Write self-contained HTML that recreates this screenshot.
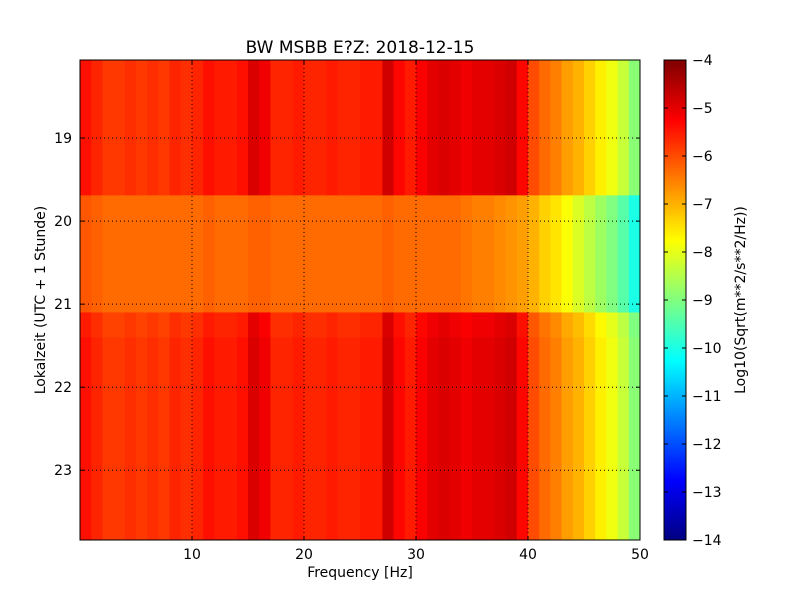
<!DOCTYPE html>
<html><head><meta charset="utf-8">
<style>
body{margin:0;background:#fff;}
svg text{font-family:"DejaVu Sans","Liberation Sans",sans-serif;}
</style></head>
<body>
<svg id="chart" width="800" height="600" xmlns="http://www.w3.org/2000/svg">
<rect width="800" height="600" fill="#fff"/>
<g id="heat"></g>
<g id="grid"></g>
<rect x="80" y="60" width="560" height="480" fill="none" stroke="#000" stroke-width="1"/>
<g id="axes"></g>
<text x="360" y="53" font-size="17" text-anchor="middle">BW MSBB E?Z: 2018-12-15</text>
<text x="360" y="577" font-size="14" text-anchor="middle">Frequency [Hz]</text>
<text transform="translate(45,300) rotate(-90)" font-size="14" text-anchor="middle">Lokalzeit (UTC + 1 Stunde)</text>
<g id="cbar"></g>
<text transform="translate(745,300) rotate(-90)" font-size="14" text-anchor="middle">Log10(Sqrt(m**2/s**2/Hz))</text>
</svg>
<script>
// data
const freqEdges = [0,1,2,3,4,5,6,7,8,9,10,11,12,13,14,15,16,17,18,19,20,21,22,23,24,25,26,27,28,29,30,31,32,33,34,35,36,37,38,39,40,41,42,43,44,45,46,47,48,49,50];
const baseSpectrum = [-5.4,-5.6,-5.8,-5.8,-5.7,-5.8,-5.7,-5.8,-5.6,-5.7,-5.6,-5.4,-5.5,-5.5,-5.4,-4.9,-5.1,-5.6,-5.6,-5.5,-5.6,-5.6,-5.5,-5.6,-5.6,-5.5,-5.5,-4.8,-5.3,-5.5,-5.2,-5.0,-4.9,-5.0,-5.1,-5.0,-5.0,-4.9,-4.8,-5.3,-6.0,-6.3,-6.5,-6.8,-7.0,-7.3,-7.6,-7.9,-8.3,-8.9];
const quietSpectrum = [-6.1,-6.2,-6.3,-6.3,-6.3,-6.3,-6.3,-6.3,-6.3,-6.3,-6.3,-6.2,-6.3,-6.3,-6.3,-6.2,-6.2,-6.3,-6.3,-6.3,-6.3,-6.3,-6.3,-6.3,-6.3,-6.3,-6.3,-6.2,-6.3,-6.3,-6.3,-6.3,-6.3,-6.3,-6.4,-6.5,-6.5,-6.6,-6.7,-6.8,-7.0,-7.3,-7.5,-7.8,-8.1,-8.4,-8.7,-9.0,-9.4,-10.0];
const segStart = [18.06,19.69,21.1,21.4];
const segEnd = [19.69,21.1,21.4,23.84];
const segSpectrum = ["base","quiet","base","base"];
const segOffset = [0,0,-0.1,0];
const xTicks = [10,20,30,40,50];
const yTicks = [19,20,21,22,23];
const cTicks = [-4,-5,-6,-7,-8,-9,-10,-11,-12,-13,-14];

const NS="http://www.w3.org/2000/svg";
const X0=80,X1=640,Y0=60,Y1=540, FMIN=0,FMAX=50,TMIN=18.06,TMAX=23.84,CMIN=-14,CMAX=-4;
const xs=f=>X0+(f-FMIN)/(FMAX-FMIN)*(X1-X0);
const ys=t=>Y0+(t-TMIN)/(TMAX-TMIN)*(Y1-Y0);
const cs=v=>Y1-(v-CMIN)/(CMAX-CMIN)*(Y1-Y0);
function jet(v){let t=(v-CMIN)/(CMAX-CMIN);t=Math.max(0,Math.min(1,t));
 const c=x=>Math.round(255*Math.max(0,Math.min(1,1.5-Math.abs(4*t-x))));
 return `rgb(${c(3)},${c(2)},${c(1)})`;}
function mk(tag,attrs,parent){const e=document.createElementNS(NS,tag);for(const k in attrs)e.setAttribute(k,attrs[k]);parent.appendChild(e);return e;}
const heat=document.getElementById('heat');
for(let s=0;s<segStart.length;s++){
 const spec=segSpectrum[s]==="base"?baseSpectrum:quietSpectrum;
 for(let i=0;i<spec.length;i++){
  const x=xs(freqEdges[i]),x2=xs(freqEdges[i+1]),y=ys(segStart[s]),y2=ys(segEnd[s]);
  const r=mk('rect',{x:x,y:y,width:x2-x+0.5,height:y2-y+0.5,fill:jet(spec[i]+segOffset[s])},heat);
  
  
 }
}
const grid=document.getElementById('grid'),axes=document.getElementById('axes');
xTicks.forEach(v=>{const x=xs(v);
 if(v<FMAX){const l=mk('line',{x1:x,x2:x,y1:Y0,y2:Y1,stroke:'#000','stroke-dasharray':'1,3','stroke-width':1},grid);
 }
 mk('line',{x1:x,x2:x,y1:Y1,y2:Y1-4,stroke:'#000'},axes);
 mk('line',{x1:x,x2:x,y1:Y0,y2:Y0+4,stroke:'#000'},axes);
 const t=mk('text',{x:x,y:Y1+19,'font-size':14,'text-anchor':'middle'},axes);t.textContent=v;
 });
yTicks.forEach(v=>{const y=ys(v);
 const l=mk('line',{x1:X0,x2:X1,y1:y,y2:y,stroke:'#000','stroke-dasharray':'1,3','stroke-width':1},grid);
 
 mk('line',{x1:X0,x2:X0+4,y1:y,y2:y,stroke:'#000'},axes);
 mk('line',{x1:X1,x2:X1-4,y1:y,y2:y,stroke:'#000'},axes);
 const t=mk('text',{x:X0-8,y:y+5,'font-size':14,'text-anchor':'end'},axes);t.textContent=v;
 });
const cb=document.getElementById('cbar');
for(let i=0;i<200;i++){const v=CMIN+(CMAX-CMIN)*i/200,v2=CMIN+(CMAX-CMIN)*(i+1)/200;
 mk('rect',{x:664,y:cs(v2),width:22,height:cs(v)-cs(v2)+0.5,fill:jet((v+v2)/2)},cb);}
mk('rect',{x:664,y:Y0,width:22,height:Y1-Y0,fill:'none',stroke:'#000'},cb);
cTicks.forEach(v=>{const y=cs(v);
 mk('line',{x1:686,x2:682,y1:y,y2:y,stroke:'#000'},cb);
 mk('line',{x1:664,x2:668,y1:y,y2:y,stroke:'#000'},cb);
 const t=mk('text',{x:692,y:y+5,'font-size':14},cb);t.textContent='\u2212'+Math.abs(v);
 });
</script>
</body></html>
